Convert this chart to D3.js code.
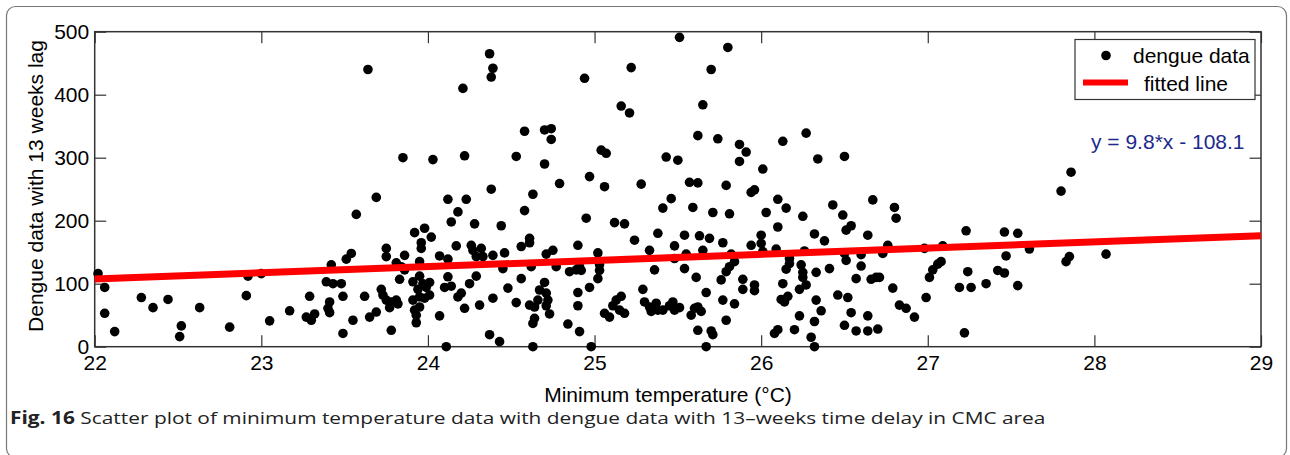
<!DOCTYPE html>
<html>
<head>
<meta charset="utf-8">
<script src="https://cdn.jsdelivr.net/npm/d3@7"></script>
<style>
  body { margin: 0; background: #fff; }
  svg { display: block; }
  .axis text { font-family: "Liberation Sans", Arial, sans-serif; font-size: 21px; fill: #000; }
  .axis line { stroke: #333; stroke-width: 1.2; }
</style>
</head>
<body>
<div id="chart"></div>
<script>
// minimum temperature (x) and dengue cases 13 weeks later (y)
var minTemp = [
  22.02, 22.06, 22.06, 22.12, 22.28, 22.35, 22.44, 22.51, 22.52, 22.63,
  22.81, 22.91, 22.92, 23.00, 23.05, 23.17, 23.27, 23.29, 23.30, 23.32,
  23.39, 23.57, 23.54, 23.51, 23.42, 23.43, 23.48, 23.49, 23.62, 23.41,
  23.40, 23.41, 23.55, 23.65, 23.49, 23.69, 23.72, 23.73, 23.75, 23.77,
  23.78, 23.81, 23.82, 23.75, 23.75, 23.78, 23.81, 23.83, 23.86, 23.84,
  23.86, 23.92, 23.98, 24.02, 23.96, 23.96, 23.95, 23.91, 23.94, 23.95,
  23.97, 23.99, 24.01, 24.01, 23.91, 23.95, 23.98, 23.92, 23.95, 23.93,
  23.93, 24.07, 24.11, 24.07, 24.12, 24.12, 24.10, 24.14, 24.14, 24.18,
  24.17, 24.18, 24.20, 24.22, 24.25, 24.28, 24.29, 24.26, 24.27, 24.32,
  24.29, 24.33, 24.31, 24.37, 24.43, 24.39, 24.39, 24.44, 24.46, 24.45,
  24.48, 24.53, 24.56, 24.56, 24.58, 24.61, 24.61, 24.62, 24.61, 24.64,
  24.64, 24.63, 24.63, 24.67, 24.70, 24.71, 24.72, 24.71, 24.73, 24.66,
  24.71, 24.75, 24.77, 24.84, 24.91, 24.85, 24.89, 24.91, 24.92, 24.90,
  24.90, 24.90, 24.95, 24.97, 24.98, 25.02, 25.03, 25.03, 25.02, 25.06,
  25.09, 25.11, 25.13, 25.16, 25.15, 25.18, 25.12, 25.18, 25.24, 25.29,
  25.30, 25.33, 25.34, 25.37, 25.38, 25.33, 25.36, 25.38, 23.64, 24.37,
  24.39, 24.38, 24.21, 24.94, 25.22, 25.16, 25.21, 24.58, 24.70, 24.74,
  24.74, 23.85, 24.03, 24.22, 24.53, 24.70, 25.04, 25.07, 24.97, 24.79,
  25.06, 25.28, 24.38, 24.63, 23.69, 24.12, 24.23, 25.51, 25.80, 25.70,
  25.65, 25.62, 25.74, 25.87, 25.91, 26.13, 26.27, 25.43, 25.50, 25.87,
  26.01, 26.34, 26.50, 25.57, 25.62, 25.79, 25.94, 25.96, 25.46, 26.10,
  26.67, 25.41, 25.59, 25.71, 25.81, 26.15, 26.03, 26.25, 26.43, 26.49,
  26.80, 26.81, 25.54, 25.63, 25.69, 25.77, 26.10, 25.94, 26.00, 26.00,
  26.01, 26.32, 26.38, 26.51, 26.54, 26.64, 26.76, 27.23, 25.48, 25.48,
  25.55, 25.65, 26.09, 26.26, 26.17, 26.17, 26.15, 25.82, 25.84, 25.81,
  25.79, 25.76, 25.54, 25.61, 25.67, 25.77, 25.84, 25.79, 25.89, 25.89,
  25.96, 25.96, 25.41, 25.45, 25.47, 25.48, 25.51, 25.58, 25.60, 25.62,
  25.64, 25.62, 25.70, 25.71, 25.67, 26.13, 26.12, 26.16, 26.14, 26.24,
  26.25, 26.25, 26.33, 26.41, 26.23, 26.27, 26.33, 26.36, 26.23, 26.32,
  26.08, 26.10, 26.20, 26.30, 26.32, 26.50, 26.51, 26.60, 26.60, 26.57,
  26.46, 26.52, 26.54, 26.50, 26.57, 26.64, 26.64, 26.70, 26.66, 26.69,
  26.71, 26.73, 26.79, 26.83, 26.87, 26.92, 26.98, 27.09, 27.06, 27.03,
  27.01, 27.08, 26.99, 27.24, 27.19, 27.26, 27.35, 27.22, 27.46, 27.54,
  27.61, 27.47, 27.42, 27.46, 27.54, 27.83, 27.85, 28.07, 27.86, 27.80
];
var dengue = [
  116, 94, 53, 24, 78, 62, 75, 16, 33, 62,
  31, 81, 112, 116, 41, 57, 47, 80, 42, 52,
  103, 210, 148, 139, 130, 100, 100, 80, 80, 71,
  61, 54, 42, 47, 21, 55, 91, 82, 74, 62,
  71, 74, 68, 156, 143, 26, 133, 107, 145, 127,
  122, 181, 188, 174, 165, 156, 135, 103, 91, 112,
  100, 94, 102, 82, 74, 79, 77, 58, 63, 50,
  38, 49, 0, 144, 139, 111, 94, 96, 198, 214,
  160, 79, 85, 61, 100, 195, 112, 161, 153, 156,
  143, 143, 66, 19, 8, 145, 77, 192, 149, 124,
  93, 70, 108, 159, 216, 172, 165, 127, 66, 63,
  45, 37, 0, 90, 102, 85, 74, 65, 52, 74,
  147, 153, 127, 36, 24, 119, 122, 127, 121, 161,
  86, 65, 204, 94, 0, 149, 130, 121, 108, 53,
  47, 65, 74, 80, 58, 53, 197, 195, 169, 91,
  71, 63, 56, 69, 58, 153, 122, 180, 440, 465,
  442, 428, 410, 426, 443, 382, 371, 342, 344, 346,
  329, 300, 297, 303, 302, 290, 312, 307, 270, 259,
  254, 258, 250, 242, 237, 234, 234, 491, 475, 440,
  384, 335, 330, 321, 309, 326, 339, 301, 296, 294,
  282, 298, 302, 261, 260, 256, 245, 249, 235, 234,
  233, 220, 221, 213, 211, 220, 213, 207, 225, 209,
  221, 204, 177, 176, 172, 165, 190, 161, 177, 164,
  151, 179, 168, 185, 192, 177, 161, 184, 160, 140,
  147, 153, 155, 152, 140, 132, 123, 147, 135, 127,
  119, 106, 124, 110, 86, 74, 68, 42, 107, 91,
  98, 89, 58, 65, 71, 58, 62, 50, 61, 63,
  56, 26, 25, 19, 0, 100, 75, 80, 71, 130,
  118, 110, 118, 124, 91, 98, 74, 57, 49, 40,
  21, 27, 27, 15, 0, 148, 137, 146, 128, 108,
  82, 78, 54, 34, 25, 49, 25, 28, 107, 110,
  110, 148, 93, 66, 61, 47, 156, 160, 131, 122,
  110, 135, 78, 119, 94, 94, 100, 22, 182, 180,
  155, 144, 121, 117, 97, 135, 143, 147, 277, 247
];
var xTicks = [22, 23, 24, 25, 26, 27, 28, 29];
var yTicks = [0, 100, 200, 300, 400, 500];
var fitCoef = [9.8, -108.1];
var legendLabels = ["dengue data", "fitted line"];

var width = 1290,
  height = 455;

var svg = d3
  .select("#chart")
  .append("svg")
  .attr("width", width)
  .attr("height", height);

// outer figure frame (rounded, bottom edge falls off the picture)
svg
  .append("rect")
  .attr("x", 6.5)
  .attr("y", 6.5)
  .attr("width", 1280)
  .attr("height", 451)
  .attr("rx", 9)
  .style("fill", "none")
  .style("stroke", "#777")
  .style("stroke-width", 1.2);

var x = d3.scaleLinear().domain([22, 29]).range([94.7, 1261]);
var y = d3.scaleLinear().domain([0, 500]).range([346.7, 31.7]);

// axes, ticks pointing inward on all four sides
svg
  .append("g")
  .attr("class", "axis")
  .attr("transform", "translate(0," + y(0) + ")")
  .call(d3.axisBottom(x).tickValues(xTicks).tickSize(-11.5).tickPadding(8).tickFormat(d3.format("d")))
  .call(function (g) { g.select(".domain").remove(); });

svg
  .append("g")
  .attr("class", "axis")
  .attr("transform", "translate(" + x(22) + ",0)")
  .call(d3.axisLeft(y).tickValues(yTicks).tickSize(-11.5).tickPadding(5.5).tickFormat(d3.format("d")))
  .call(function (g) { g.select(".domain").remove(); });

svg
  .append("g")
  .attr("class", "axis")
  .attr("transform", "translate(0," + y(500) + ")")
  .call(d3.axisTop(x).tickValues(xTicks).tickSize(-11.5).tickFormat(""))
  .call(function (g) { g.select(".domain").remove(); });

svg
  .append("g")
  .attr("class", "axis")
  .attr("transform", "translate(" + x(29) + ",0)")
  .call(d3.axisRight(y).tickValues(yTicks).tickSize(-11.5).tickFormat(""))
  .call(function (g) { g.select(".domain").remove(); });

svg
  .append("rect")
  .attr("x", x(22))
  .attr("y", y(500))
  .attr("width", x(29) - x(22))
  .attr("height", y(0) - y(500))
  .style("fill", "none")
  .style("stroke", "#333")
  .style("stroke-width", 1.5);

// scatter
svg
  .append("g")
  .selectAll("circle")
  .data(minTemp)
  .enter()
  .append("circle")
  .attr("cx", function (d) {
    return x(d);
  })
  .attr("cy", function (d, i) {
    return y(dengue[i]);
  })
  .attr("r", 4.8)
  .style("fill", "#000");

// fitted line
var fitLine = d3
  .line()
  .x(function (d) {
    return x(d);
  })
  .y(function (d) {
    return y(fitCoef[0] * d + fitCoef[1]);
  });
svg
  .append("path")
  .datum([xTicks[0], xTicks[xTicks.length - 1]])
  .attr("d", fitLine)
  .style("fill", "none")
  .style("stroke", "#ff0000")
  .style("stroke-width", 7);

// axis labels
svg
  .append("text")
  .attr("transform", "translate(42.5,186) rotate(-90)")
  .style("text-anchor", "middle")
  .style("font-family", "Liberation Sans, Arial, sans-serif")
  .style("font-size", "21px")
  .text("Dengue data with 13 weeks lag");

svg
  .append("text")
  .attr("x", 668)
  .attr("y", 402)
  .style("text-anchor", "middle")
  .style("font-family", "Liberation Sans, Arial, sans-serif")
  .style("font-size", "21px")
  .text("Minimum temperature (°C)");

// legend
var legend = svg.append("g").attr("transform", "translate(1075,39.5)");
legend
  .append("rect")
  .attr("width", 180)
  .attr("height", 60)
  .style("fill", "#fff")
  .style("stroke", "#333")
  .style("stroke-width", 1.2);
legend.append("circle").attr("cx", 31).attr("cy", 16).attr("r", 4.8).style("fill", "#000");
legend
  .append("line")
  .attr("x1", 8)
  .attr("x2", 53)
  .attr("y1", 43)
  .attr("y2", 43)
  .style("stroke", "#ff0000")
  .style("stroke-width", 6);
legend
  .selectAll("text")
  .data(legendLabels)
  .enter()
  .append("text")
  .attr("x", function (d, i) {
    return i === 0 ? 58 : 69;
  })
  .attr("y", function (d, i) {
    return i === 0 ? 23.5 : 51;
  })
  .style("font-family", "Liberation Sans, Arial, sans-serif")
  .style("font-size", "21px")
  .text(function (d) {
    return d;
  });

// fit equation
svg
  .append("text")
  .attr("x", 1091)
  .attr("y", 149)
  .style("font-family", "Liberation Sans, Arial, sans-serif")
  .style("font-size", "21px")
  .style("fill", "#1c2a8c")
  .text("y = " + fitCoef[0] + "*x - " + Math.abs(fitCoef[1]));

// caption
var cap = svg
  .append("text")
  .style("font-family", "Open Sans, sans-serif")
  .style("font-size", "17px")
  .style("fill", "#222");
cap.append("tspan").style("font-weight", "bold").text("Fig. 16");
cap
  .append("tspan")
  .text(" Scatter plot of minimum temperature data with dengue data with 13\u2013weeks time delay in CMC area");
var capW = cap.node().getComputedTextLength();
cap.attr("transform", "translate(10,424) scale(" + 1036 / capW + ",1)");
</script>
</body>
</html>
